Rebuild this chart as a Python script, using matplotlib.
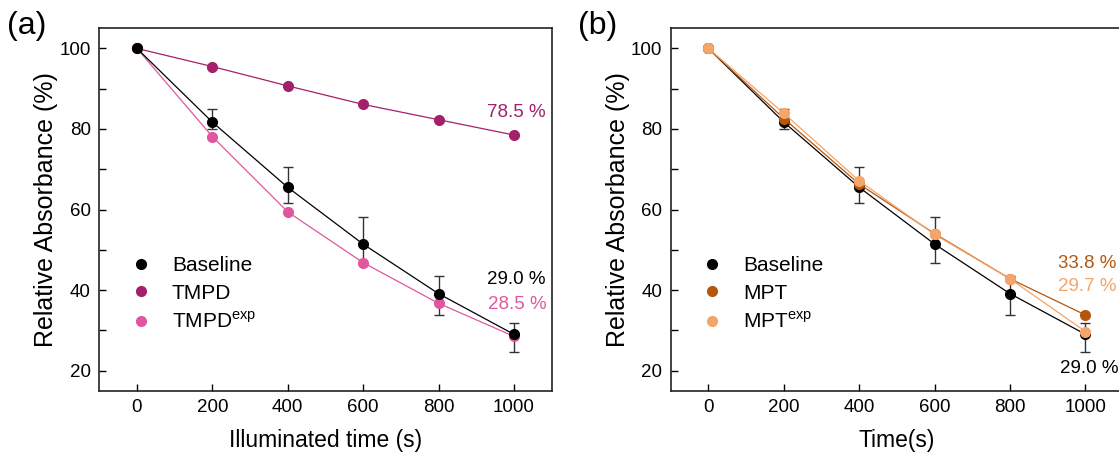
import matplotlib
matplotlib.use('Agg')
import matplotlib.pyplot as plt
from matplotlib.lines import Line2D
from matplotlib.ticker import MultipleLocator

plt.rcParams['font.family'] = ['Liberation Sans', 'DejaVu Sans']
plt.rcParams['mathtext.fontset'] = 'custom'
plt.rcParams['mathtext.rm'] = 'Liberation Sans'

# data
time_s = [0, 200, 400, 600, 800, 1000]
baseline = [100, 81.7, 65.5, 51.4, 39.1, 29.0]
base_err_lo = [0, 1.8, 3.9, 4.8, 5.2, 4.3]
base_err_hi = [0, 3.2, 5.0, 6.7, 4.4, 2.8]
tmpd = [100, 95.5, 90.7, 86.1, 82.3, 78.5]
tmpd_exp = [100, 78.1, 59.4, 46.8, 36.7, 28.5]
mpt = [100, 82.6, 66.3, 54.0, 42.8, 33.8]
mpt_exp = [100, 83.9, 67.1, 53.8, 42.8, 29.7]

c_base = 'black'
c_tmpd = '#a3206a'
c_tmpd_exp = '#e0579f'
c_mpt = '#b4560f'
c_mpt_exp = '#f3a56a'

fig = plt.figure(figsize=(11.19, 4.55), dpi=100)
ax1 = fig.add_axes([0.0887, 0.1413, 0.4043, 0.7965])
ax2 = fig.add_axes([0.5994, 0.1413, 0.4043, 0.7965])

ms = 7
lw = 0.9
fs_note = 13.5


def draw_baseline(ax):
    ax.errorbar(time_s, baseline, yerr=[base_err_lo, base_err_hi], fmt='none',
                ecolor='#333333', elinewidth=1.0, capsize=3.5, capthick=1.0, zorder=2)
    ax.plot(time_s, baseline, '-o', color=c_base, lw=lw, ms=ms, zorder=3)


# panel (a)
ax1.plot(time_s, tmpd, '-o', color=c_tmpd, lw=lw, ms=ms, zorder=3)
ax1.plot(time_s, tmpd_exp, '-o', color=c_tmpd_exp, lw=lw, ms=ms, zorder=3)
draw_baseline(ax1)
ax1.text(1005, 84, '78.5 %', color=c_tmpd, fontsize=fs_note, ha='center', va='center')
ax1.text(1006, 42.7, '29.0 %', color='black', fontsize=fs_note, ha='center', va='center')
ax1.text(1008, 36.3, '28.5 %', color=c_tmpd_exp, fontsize=fs_note, ha='center', va='center')
ax1.set_xlabel('Illuminated time (s)', fontsize=16.5, labelpad=9)

# panel (b)
draw_baseline(ax2)
ax2.plot(time_s, mpt, '-o', color=c_mpt, lw=lw, ms=ms, zorder=3)
ax2.plot(time_s, mpt_exp, '-o', color=c_mpt_exp, lw=lw, ms=ms, zorder=3)
ax2.text(1004, 46.7, '33.8 %', color=c_mpt, fontsize=fs_note, ha='center', va='center')
ax2.text(1004, 41.0, '29.7 %', color=c_mpt_exp, fontsize=fs_note, ha='center', va='center')
ax2.text(1009, 20.6, '29.0 %', color='black', fontsize=fs_note, ha='center', va='center')
ax2.set_xlabel('Time(s)', fontsize=16.5, labelpad=9)

legends = [
    (ax1, [('Baseline', c_base), ('TMPD', c_tmpd), ('TMPD$^{\\rm exp}$', c_tmpd_exp)]),
    (ax2, [('Baseline', c_base), ('MPT', c_mpt), ('MPT$^{\\rm exp}$', c_mpt_exp)]),
]
for ax, items in legends:
    handles = [Line2D([], [], ls='none', marker='o', ms=ms, color=c) for _, c in items]
    ax.legend(handles, [t for t, _ in items], loc='upper left', bbox_to_anchor=(0.05, 0.395),
              frameon=False, fontsize=15, handlelength=1.0, handletextpad=1.0,
              labelspacing=0.42, borderaxespad=0)

for ax, tag in [(ax1, '(a)'), (ax2, '(b)')]:
    ax.set_xlim(-100, 1100)
    ax.set_ylim(15, 105)
    ax.set_xticks(time_s)
    ax.yaxis.set_major_locator(MultipleLocator(20))
    ax.yaxis.set_minor_locator(MultipleLocator(10))
    ax.set_yticks([20, 40, 60, 80, 100])
    ax.tick_params(which='both', direction='in', length=5, width=1.0, labelsize=13.5,
                   top=False, right=False, pad=6)
    ax.set_ylabel('Relative Absorbance (%)', fontsize=18, labelpad=1)
    for sp in ax.spines.values():
        sp.set_linewidth(1.2)
        sp.set_color('#222222')
    ax.text(-0.205, 1.005, tag, transform=ax.transAxes, fontsize=23, ha='left', va='center')

fig.savefig('out.png', dpi=100)
